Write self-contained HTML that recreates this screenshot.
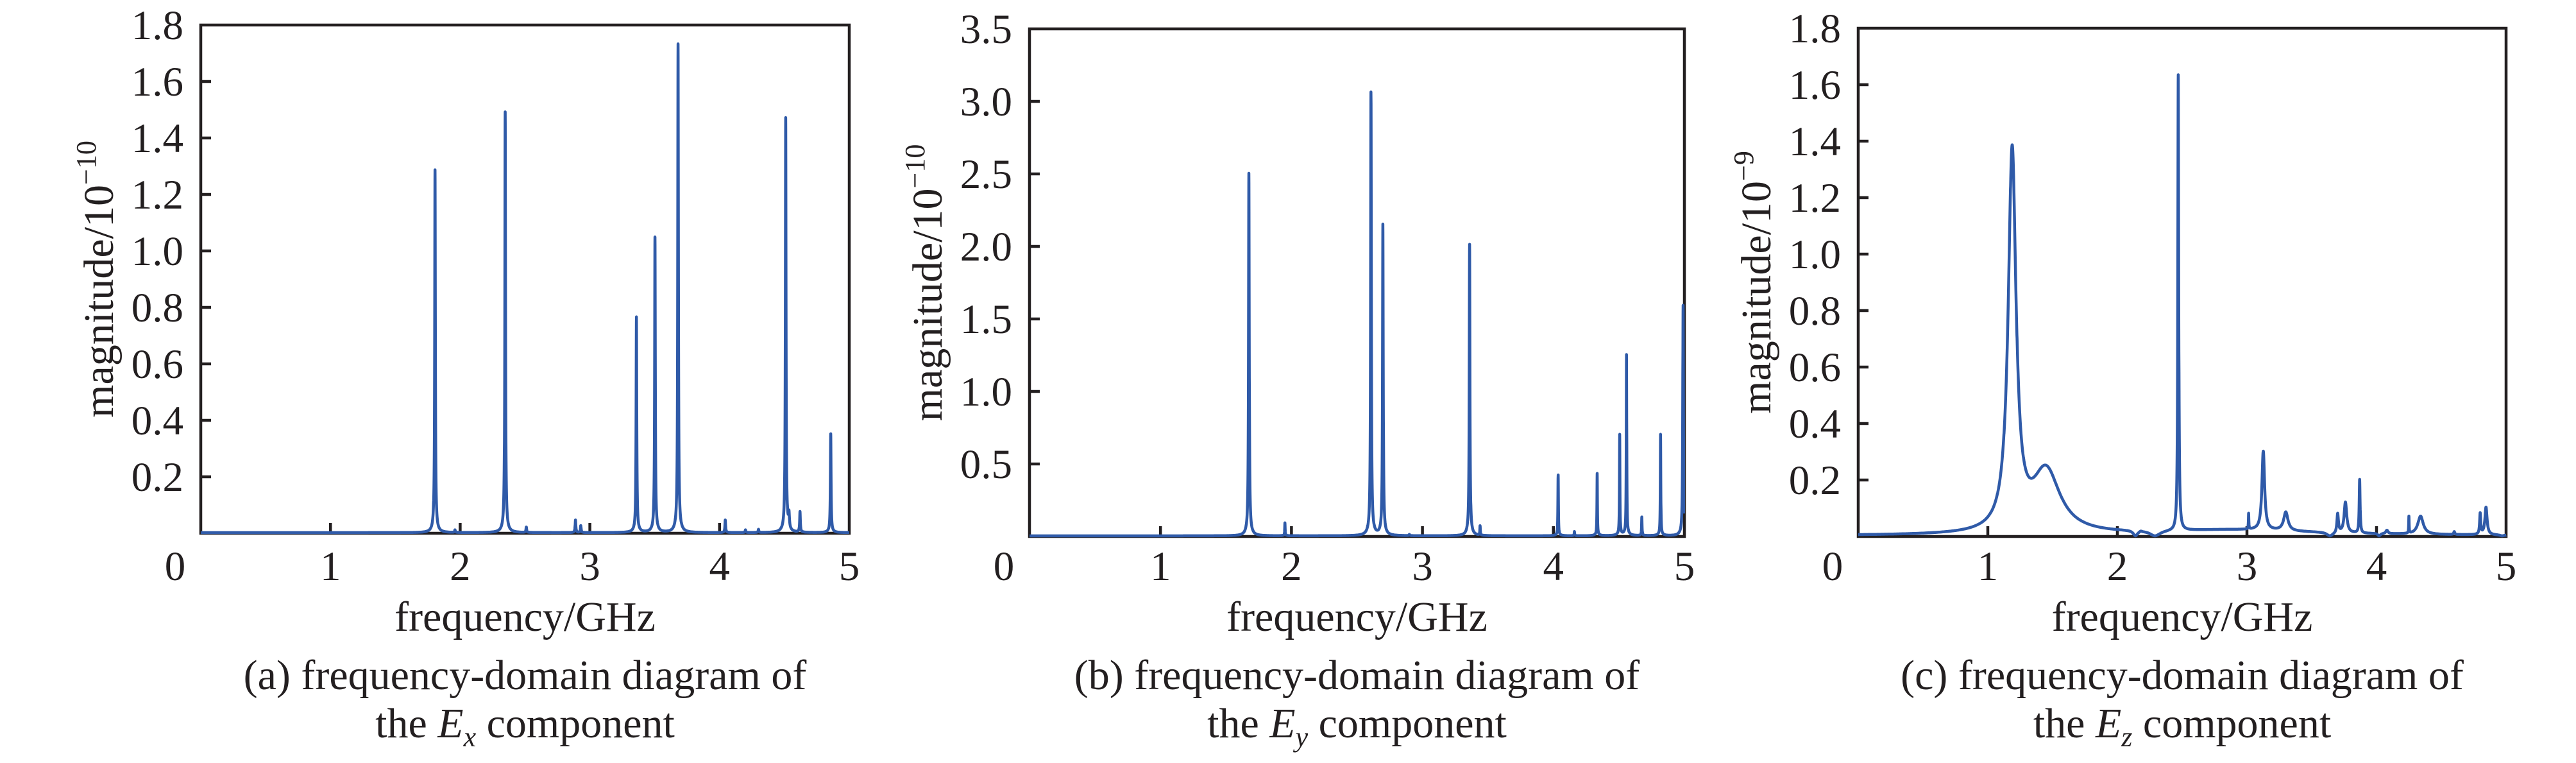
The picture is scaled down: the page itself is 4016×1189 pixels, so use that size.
<!DOCTYPE html>
<html><head><meta charset="utf-8">
<style>
html,body{margin:0;padding:0;background:#fff;}
svg{display:block;}
text{font-family:"Liberation Serif","Times New Roman",serif;fill:#231f20;}
</style></head>
<body>
<svg id="s" width="4016" height="1189" viewBox="0 0 4016 1189" xmlns="http://www.w3.org/2000/svg">
<defs>
<clipPath id="ca"><rect x="313" y="20" width="1012" height="815"/></clipPath>
<clipPath id="cb"><rect x="1605" y="20" width="1022" height="820"/></clipPath>
<clipPath id="cc"><rect x="2897" y="20" width="1011" height="820"/></clipPath>
</defs>
<g id="g"></g>
</svg>
<script>
(function(){
var NS="http://www.w3.org/2000/svg";
var g=document.getElementById("g");
function el(t,a,txt){var e=document.createElementNS(NS,t);for(var k in a)e.setAttribute(k,a[k]);if(txt!=null)e.textContent=txt;g.appendChild(e);return e;}
function L(f,f0,A,w){var d=f-f0;return A*w*w/(d*d+w*w);}
var panels=[
 {L:313,R:1324,T:39,B:831,ymax:1.8,yt:[0.2,0.4,0.6,0.8,1.0,1.2,1.4,1.6],exp:"−10",clip:"ca",sw:4.5,
  peaks:[[1.806,1.285,0.003],[2.347,1.49,0.003],[3.359,0.764,0.003],[3.502,1.047,0.003],[3.680,1.731,0.003],[4.51,1.47,0.003],[4.857,0.35,0.003],
   [2.889,0.045,0.003],[2.93,0.025,0.003],[2.51,0.02,0.003],[1.96,0.01,0.003],[4.044,0.045,0.003],[4.62,0.075,0.003],[4.535,0.08,0.004],[4.2,0.01,0.003],[4.3,0.012,0.003]],
  skirt:0.018,sub:"x",cap:"(a)"},
 {L:1605,R:2626,T:45,B:836,ymax:3.5,yt:[0.5,1.0,1.5,2.0,2.5,3.0],exp:"−10",clip:"cb",sw:4.5,
  peaks:[[1.675,2.50,0.003],[1.95,0.09,0.002],[2.607,3.06,0.003],[2.698,2.15,0.003],[3.36,2.01,0.003],[3.44,0.07,0.002],[4.036,0.42,0.002],[4.16,0.03,0.002],
   [4.334,0.43,0.002],[4.506,0.70,0.002],[4.558,1.25,0.002],[4.675,0.13,0.002],[4.818,0.70,0.002],[4.99,1.59,0.003],[2.9,0.01,0.003]],
  skirt:0.02,sub:"y",cap:"(b)"},
 {L:2897,R:3907,T:44,B:836,ymax:1.8,yt:[0.2,0.4,0.6,0.8,1.0,1.2,1.4,1.6],exp:"−9",clip:"cc",sw:4.5,
  peaks:[[1.188,1.385,0.036],[1.45,0.25,0.13],[2.18,0.015,0.01],[2.47,1.633,0.004],[3.013,0.08,0.002],[3.126,0.30,0.012],[3.30,0.085,0.02],
   [3.70,0.08,0.007],[3.76,0.12,0.012],[3.87,0.20,0.004],[4.08,0.02,0.01],[4.25,0.07,0.002],[4.34,0.07,0.025],[4.60,0.015,0.005],[4.80,0.075,0.005],[4.845,0.10,0.01],[2.9,0.02,0.8]],
  notches:[[2.14,0.02],[2.29,0.05],[3.64,0.03],[4.02,0.012],[4.97,0.02]],
  fixN:14,skirt:0,sub:"z",cap:"(c)"}
];
panels.forEach(function(p){
 var sx=(p.R-p.L)/5, sy=(p.B-p.T)/p.ymax;
 var amp=p.peaks.map(function(k){return k[1];});
 function Y(f){
  var y=0;
  p.peaks.forEach(function(k,j){y+=L(f,k[0],amp[j],k[2]);if(p.skirt)y+=L(f,k[0],amp[j]*p.skirt,0.02);});
  if(p.notches)p.notches.forEach(function(n){var dd=f-n[0];y*=dd*dd/(dd*dd+n[1]*n[1]);});
  return y;
 }
 var nfix=p.fixN!=null?p.fixN:p.peaks.length;
 for(var it=0;it<4;it++){
  p.peaks.forEach(function(k,j){ if(j>=nfix) return; var a=Y(k[0]); if(a>0) amp[j]*=k[1]/a; });
 }
 var fs=[];for(var i=0;i<=10000;i++)fs.push(i*0.0005);
 p.peaks.forEach(function(k){fs.push(k[0]);});
 fs.sort(function(a,b){return a-b;});
 var d="";
 fs.forEach(function(f,i){
  var X=p.L+f*sx, YY=p.B-1-Y(f)*sy;
  d+=(i?"L":"M")+X.toFixed(1)+" "+YY.toFixed(1);
 });
 el("rect",{x:p.L,y:p.T,width:p.R-p.L,height:p.B-p.T,fill:"none",stroke:"#231f20","stroke-width":4.5});
 p.yt.forEach(function(v){var Yv=p.B-v*sy;el("line",{x1:p.L,y1:Yv,x2:p.L+16,y2:Yv,stroke:"#231f20","stroke-width":4.5});
   el("text",{x:p.L-27,y:Yv+22,"text-anchor":"end","font-size":65},v.toFixed(1));});
 el("text",{x:p.L-27,y:p.T+22,"text-anchor":"end","font-size":65},p.ymax.toFixed(1));
 for(var t=1;t<=4;t++){var X=p.L+t*sx;el("line",{x1:X,y1:p.B,x2:X,y2:p.B-16,stroke:"#231f20","stroke-width":4.5});}
 for(var t=0;t<=5;t++){var X=t==0?p.L-40:p.L+t*sx;el("text",{x:X,y:904,"text-anchor":"middle","font-size":65},String(t));}
 el("path",{d:d,fill:"none",stroke:"#2f5aa8","stroke-width":p.sw,"stroke-linejoin":"round","clip-path":"url(#"+p.clip+")"});
 var cx=(p.L+p.R)/2;
 el("text",{x:cx,y:983,"text-anchor":"middle","font-size":66},"frequency/GHz");
 el("text",{x:cx,y:1074,"text-anchor":"middle","font-size":66},p.cap+" frequency-domain diagram of");
 var t2=el("text",{x:cx,y:1149,"text-anchor":"middle","font-size":66});
 t2.innerHTML='the <tspan font-style="italic">E</tspan><tspan font-style="italic" font-size="44" dy="14">'+p.sub+'</tspan><tspan dy="-14"> component</tspan>';
 var yl=el("text",{transform:"translate("+(p.L-137)+","+((p.T+p.B)/2)+") rotate(-90)","text-anchor":"middle","font-size":66});
 yl.innerHTML='magnitude/10<tspan font-size="44" dy="-27">'+p.exp+'</tspan>';
});
})();
</script>
</body></html>
